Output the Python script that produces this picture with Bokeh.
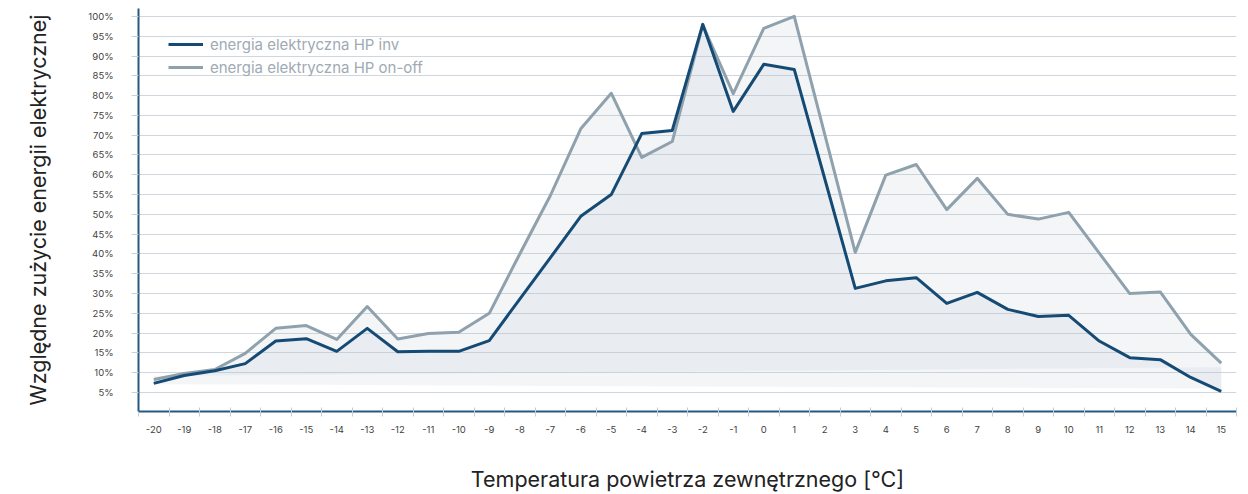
from bokeh.plotting import figure
from bokeh.models import FixedTicker, PrintfTickFormatter, Range1d, Legend, LegendItem
from bokeh.embed import file_html
from bokeh.resources import INLINE

# ---- data ----
temps = list(range(-20, 16))
tick_labels = ["-20", "-19", "-18", "-17", "-16", "-15", "-14", "-13", "-12", "-11",
               "-10", "-9", "-8", "-7", "-6", "-5", "-4", "-3", "-2", "-1", "0",
               "1", "2", "3", "4", "5", "6", "7", "8", "9", "10", "11", "12", "13",
               "14", "15"]
inv = [7.3, 9.3, 10.5, 12.3, 18.0, 18.6, 15.4, 21.2, 15.3, 15.4, 15.4, 18.1,
       28.6, 39.0, 49.5, 55.0, 70.4, 71.2, 98.0, 76.0, 87.9, 86.6, 59.0, 31.3,
       33.2, 34.0, 27.5, 30.3, 26.0, 24.2, 24.5, 18.0, 13.8, 13.3, 8.8, 5.3]
onoff = [8.3, 9.8, 10.8, 14.9, 21.2, 21.9, 18.4, 26.7, 18.5, 19.9, 20.2, 25.0,
         40.0, 54.7, 71.6, 80.6, 64.4, 68.4, 97.8, 80.5, 97.0, 100.0, 70.2, 40.4,
         59.9, 62.6, 51.2, 59.1, 50.0, 48.8, 50.5, 40.2, 30.0, 30.4, 19.7, 12.4]
# fill baselines (value at left end, value at right end)
inv_base = [9.2, 11.4]
onoff_base = [7.1, 6.0]
y_ticks = list(range(5, 101, 5))
series_names = ["energia elektryczna HP inv", "energia elektryczna HP on-off"]

DARK = "#154a74"
GRAY = "#8fa1ad"
FONT = "Inter"

p = figure(width=1248, height=494,
           x_range=Range1d(-20.5, 15.5), y_range=Range1d(0.2, 102),
           output_backend="svg", toolbar_location=None,
           min_border_left=138, min_border_right=12,
           min_border_top=8, min_border_bottom=83)
p.outline_line_color = None
p.background_fill_color = "white"
p.border_fill_color = "white"

# fills (semi-transparent so gridlines show through)
fill_col = "#b7c1cd"
p.patch(temps + [temps[-1], temps[0]], onoff + [onoff_base[1], onoff_base[0]],
        fill_color=fill_col, fill_alpha=0.17, line_color=None)
p.patch(temps + [temps[-1], temps[0]], inv + [inv_base[1], inv_base[0]],
        fill_color=fill_col, fill_alpha=0.17, line_color=None)

r_off = p.line(temps, onoff, line_color=GRAY, line_width=3, line_join="round")
r_inv = p.line(temps, inv, line_color=DARK, line_width=3, line_join="round")

# grid
p.xgrid.grid_line_color = None
p.ygrid.ticker = FixedTicker(ticks=y_ticks)
p.ygrid.grid_line_color = "#cfd6dd"
p.ygrid.grid_line_width = 1

# y axis
ya = p.yaxis[0]
ya.ticker = FixedTicker(ticks=y_ticks)
ya.formatter = PrintfTickFormatter(format="%d%%")
ya.axis_line_color = "#245a84"
ya.axis_line_width = 2
ya.major_tick_out = 7
ya.major_tick_in = 0
ya.major_tick_line_color = "#c8d0d8"
ya.minor_tick_line_color = None
ya.major_label_standoff = 18
ya.major_label_text_font = FONT
ya.major_label_text_font_size = "9.5px"
ya.major_label_text_color = "#3f3f3f"
ya.axis_label = "Względne zużycie energii elektrycznej"
ya.axis_label_text_font = FONT
ya.axis_label_text_font_size = "21.5px"
ya.axis_label_text_font_style = "normal"
ya.axis_label_text_color = "#222222"
ya.axis_label_standoff = 34

# x axis
xa = p.xaxis[0]
xa.ticker = FixedTicker(ticks=temps,
                        minor_ticks=[t + 0.5 for t in temps[:-1]] + [temps[0] - 0.5, temps[-1] + 0.5])
xa.major_label_overrides = {t: lab for t, lab in zip(temps, tick_labels)}
xa.axis_line_color = "#245a84"
xa.axis_line_width = 2
xa.major_tick_line_color = None
xa.major_tick_out = 0
xa.major_tick_in = 0
xa.minor_tick_line_color = "#c5ced6"
xa.minor_tick_in = 4
xa.minor_tick_out = 5
xa.major_label_standoff = 9
xa.major_label_text_font = FONT
xa.major_label_text_font_size = "9.5px"
xa.major_label_text_color = "#3f3f3f"
xa.axis_label = "Temperatura powietrza zewnętrznego [°C]"
xa.axis_label_text_font = FONT
xa.axis_label_text_font_size = "21.5px"
xa.axis_label_text_font_style = "normal"
xa.axis_label_text_color = "#222222"
xa.axis_label_standoff = 30

legend = Legend(items=[LegendItem(label=series_names[0], renderers=[r_inv]),
                       LegendItem(label=series_names[1], renderers=[r_off])],
                location=(30, 334))
legend.border_line_color = None
legend.background_fill_alpha = 0
legend.padding = 0
legend.margin = 0
legend.spacing = 3
legend.glyph_width = 35
legend.glyph_height = 20
legend.label_height = 20
legend.label_standoff = 7
legend.label_text_font = FONT
legend.label_text_font_size = "15px"
legend.label_text_color = "#a0aab4"
p.add_layout(legend)

open("out.html", "w").write(file_html(p, INLINE))
